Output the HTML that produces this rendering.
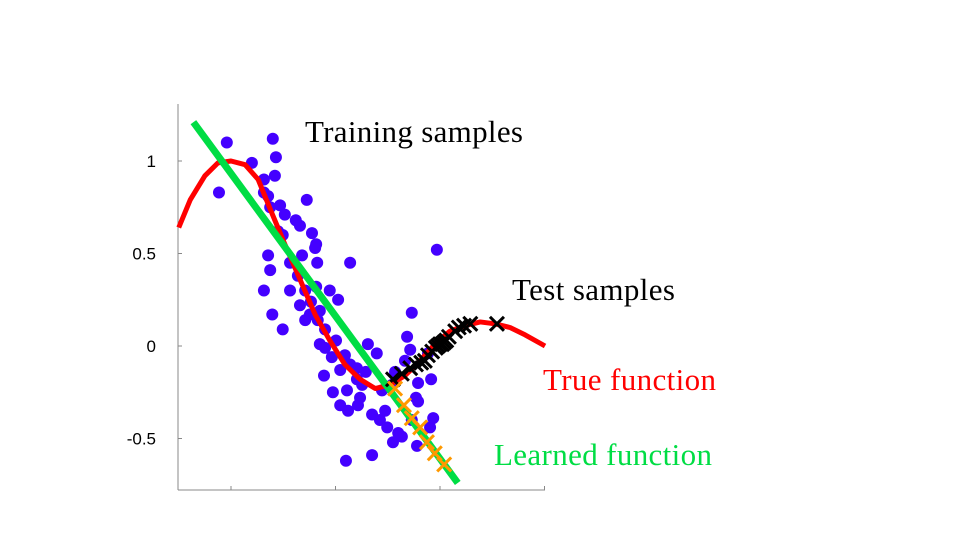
<!DOCTYPE html>
<html><head><meta charset="utf-8"><style>
html,body{margin:0;padding:0;background:#fff;width:960px;height:540px;overflow:hidden}
svg text{font-family:"Liberation Serif",serif}
</style></head><body>
<svg id="chart" width="960" height="540"></svg>
<script>
const blueX=[0.77,0.92,1.40,1.80,1.86,1.84,1.63,1.63,1.71,1.94,1.75,2.03,2.45,2.24,2.32,1.90,1.99,2.55,2.63,2.61,1.71,2.36,2.65,2.13,1.75,2.28,3.28,1.63,2.13,2.42,2.63,2.89,2.53,3.05,1.79,2.32,2.70,1.99,2.51,2.66,2.80,2.42,2.80,3.01,2.70,3.18,3.28,2.93,2.78,3.09,3.41,3.51,3.22,2.95,3.09,3.24,3.47,3.70,3.85,3.95,3.99,4.10,4.20,4.27,4.54,4.46,4.58,4.37,4.33,3.89,3.43,3.20,3.70,4.94,4.46,4.58,4.77,4.83,4.14,4.81,4.56,4.87,4.08,4.43,3.62,3.79,3.41,3.58];
const blueY=[0.83,1.10,0.99,1.12,1.02,0.92,0.90,0.83,0.81,0.76,0.75,0.71,0.79,0.68,0.65,0.62,0.60,0.61,0.55,0.53,0.49,0.49,0.45,0.45,0.41,0.38,0.45,0.30,0.30,0.30,0.32,0.30,0.24,0.25,0.17,0.22,0.19,0.09,0.17,0.14,0.09,0.14,-0.01,0.03,0.01,-0.05,-0.10,-0.06,-0.16,-0.13,-0.18,-0.21,-0.24,-0.25,-0.32,-0.35,-0.28,-0.37,-0.40,-0.35,-0.44,-0.52,-0.47,-0.49,-0.28,-0.40,-0.30,0.05,-0.08,-0.24,-0.32,-0.62,-0.59,0.52,0.18,-0.20,-0.04,-0.18,-0.14,-0.44,-0.54,-0.39,-0.21,-0.02,0.01,-0.04,-0.12,-0.14];
const trueX=[0,0.22,0.50,0.75,1.00,1.27,1.52,1.75,2.03,2.32,2.61,2.89,3.18,3.47,3.76,4.04,4.33,4.62,4.90,5.19,5.48,5.77,6.05,6.34,6.63,7.01];
const trueY=[0.64,0.79,0.92,0.99,1.00,0.98,0.90,0.74,0.55,0.36,0.17,0.03,-0.10,-0.18,-0.23,-0.21,-0.16,-0.08,0.01,0.08,0.11,0.13,0.12,0.10,0.06,0.00];
const learnedX=[0.28,5.34];
const learnedY=[1.21,-0.74];
const testX=[4.10,4.27,4.43,4.54,4.64,4.71,4.77,4.85,4.92,4.96,5.00,5.04,5.08,5.12,5.17,5.29,5.36,5.46,5.58,6.09];
const testY=[-0.18,-0.15,-0.12,-0.10,-0.09,-0.08,-0.05,-0.03,-0.01,0,0.01,0.01,0.02,0.03,0.05,0.08,0.10,0.11,0.12,0.12];
const predX=[4.14,4.31,4.46,4.62,4.75,4.90,5.08];
const predY=[-0.23,-0.32,-0.39,-0.44,-0.52,-0.58,-0.64];
const yTicks=[1,0.5,0,-0.5];
const yTickLabels=["1","0.5","0","-0.5"];
const xTicks=[1,3,5,7];

const NS="http://www.w3.org/2000/svg";
const svg=document.getElementById('chart');
const X=v=>178.75+v*52.25;
const Y=v=>346-v*185;
function mk(tag,attrs,parent){const e=document.createElementNS(NS,tag);for(const k in attrs)e.setAttribute(k,attrs[k]);(parent||svg).appendChild(e);return e;}

const axes=mk('g',{});


const ya=mk('line',{x1:178,y1:104,x2:178,y2:490,stroke:'#888','stroke-width':1},axes);


const xa=mk('line',{x1:178,y1:490,x2:545,y2:490,stroke:'#888','stroke-width':1},axes);


yTicks.forEach((t,i)=>{
  const tk=mk('line',{x1:178,x2:182,y1:Y(t),y2:Y(t),stroke:'#888'},axes);
  
  
  const tl=mk('text',{x:156,y:Y(t)+6,'text-anchor':'end','font-size':17,fill:'#000',style:'font-family:"Liberation Sans",sans-serif'},axes);
  tl.textContent=yTickLabels[i];
  
  
});
xTicks.forEach(t=>{
  const tk=mk('line',{x1:X(t),x2:X(t),y1:490,y2:486,stroke:'#888'},axes);
  
  
});

const pts=mk('g',{fill:'#4400ff'});


blueX.forEach((x,i)=>{
  const c=mk('circle',{cx:X(x),cy:Y(blueY[i]),r:6},pts);
  
  
});

const tp=mk('polyline',{points:trueX.map((x,i)=>X(x)+','+Y(trueY[i])).join(' '),fill:'none',stroke:'#ff0000','stroke-width':5,'stroke-linejoin':'round'});



const lp=mk('line',{x1:X(learnedX[0]),y1:Y(learnedY[0]),x2:X(learnedX[1]),y2:Y(learnedY[1]),stroke:'#00dd44','stroke-width':7});



function cross(g,x,y,s,col,w){
  mk('line',{x1:x-s,y1:y-s,x2:x+s,y2:y+s,stroke:col,'stroke-width':w},g);
  mk('line',{x1:x-s,y1:y+s,x2:x+s,y2:y-s,stroke:col,'stroke-width':w},g);
}
const tg=mk('g',{});


testX.forEach((x,i)=>{
  const g=mk('g',{},tg);
  
  
  cross(g,X(x),Y(testY[i]),7,'#000',3);
});
const pg=mk('g',{});


predX.forEach((x,i)=>{
  const g=mk('g',{},pg);
  
  
  cross(g,X(x),Y(predY[i]),7,'#ff9900',3);
});
</script>
<svg width="960" height="540" style="position:absolute;left:0;top:0">
<text x="305" y="142" font-size="31" textLength="218" fill="#000">Training samples</text>
<text x="512" y="300" font-size="31" textLength="163" fill="#000">Test samples</text>
<text x="543" y="390" font-size="31" textLength="173" fill="#ff0000">True function</text>
<text x="494" y="465" font-size="31" textLength="218" fill="#00dd44">Learned function</text>
</svg>
</body></html>
